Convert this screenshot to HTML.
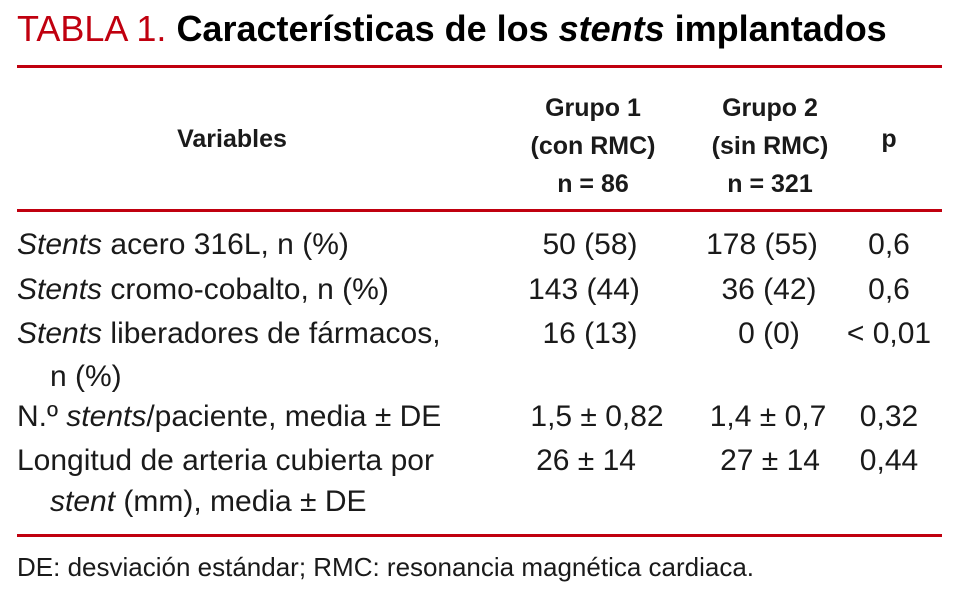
<!DOCTYPE html>
<html><head><meta charset="utf-8"><style>
body{margin:0;width:959px;height:592px;background:#fff;position:relative;overflow:hidden;font-family:"Liberation Sans",sans-serif;color:#1a1a1a}
div{position:absolute;white-space:nowrap}
.rule{left:17px;width:925px;height:3px;background:#c0000f}
.h{font-weight:bold;font-size:25px;transform:translateX(-50%);line-height:1}
.b{font-size:30px;line-height:1}
.c{transform:translateX(-50%)}
</style></head><body>
<div style="left:17px;top:11px;font-size:36px;line-height:1"><span style="color:#c0000f">TABLA 1.</span> <b style="color:#000">Características de los <i>stents</i> implantados</b></div>
<div class="rule" style="top:65px"></div>
<div class="h" style="left:232px;top:127px">Variables</div>
<div class="h" style="left:593px;top:89px;text-align:center;line-height:38px">Grupo 1<br>(con RMC)<br>n = 86</div>
<div class="h" style="left:770px;top:89px;text-align:center;line-height:38px">Grupo 2<br>(sin RMC)<br>n = 321</div>
<div class="h" style="left:889px;top:127px">p</div>
<div class="rule" style="top:209px"></div>

<div class="b" style="left:17px;top:230px"><i>Stents</i> acero 316L, n (%)</div>
<div class="b c" style="left:590px;top:230px">50 (58)</div>
<div class="b c" style="left:762px;top:230px">178 (55)</div>
<div class="b c" style="left:889px;top:230px">0,6</div>

<div class="b" style="left:17px;top:275px"><i>Stents</i> cromo-cobalto, n (%)</div>
<div class="b c" style="left:584px;top:275px">143 (44)</div>
<div class="b c" style="left:769px;top:275px">36 (42)</div>
<div class="b c" style="left:889px;top:275px">0,6</div>

<div class="b" style="left:17px;top:319px"><i>Stents</i> liberadores de fármacos,</div>
<div class="b" style="left:50px;top:362px">n (%)</div>
<div class="b c" style="left:590px;top:319px">16 (13)</div>
<div class="b c" style="left:769px;top:319px">0 (0)</div>
<div class="b c" style="left:889px;top:319px">&lt; 0,01</div>

<div class="b" style="left:17px;top:402px">N.º <i>stents</i>/paciente, media ± DE</div>
<div class="b c" style="left:597px;top:402px">1,5 ± 0,82</div>
<div class="b c" style="left:768px;top:402px">1,4 ± 0,7</div>
<div class="b c" style="left:889px;top:402px">0,32</div>

<div class="b" style="left:17px;top:446px">Longitud de arteria cubierta por</div>
<div class="b" style="left:50px;top:487px"><i>stent</i> (mm), media ± DE</div>
<div class="b c" style="left:586px;top:446px">26 ± 14</div>
<div class="b c" style="left:770px;top:446px">27 ± 14</div>
<div class="b c" style="left:889px;top:446px">0,44</div>

<div class="rule" style="top:534px"></div>
<div style="left:17px;top:554px;font-size:26px;line-height:1">DE: desviación estándar; RMC: resonancia magnética cardiaca.</div>
</body></html>
